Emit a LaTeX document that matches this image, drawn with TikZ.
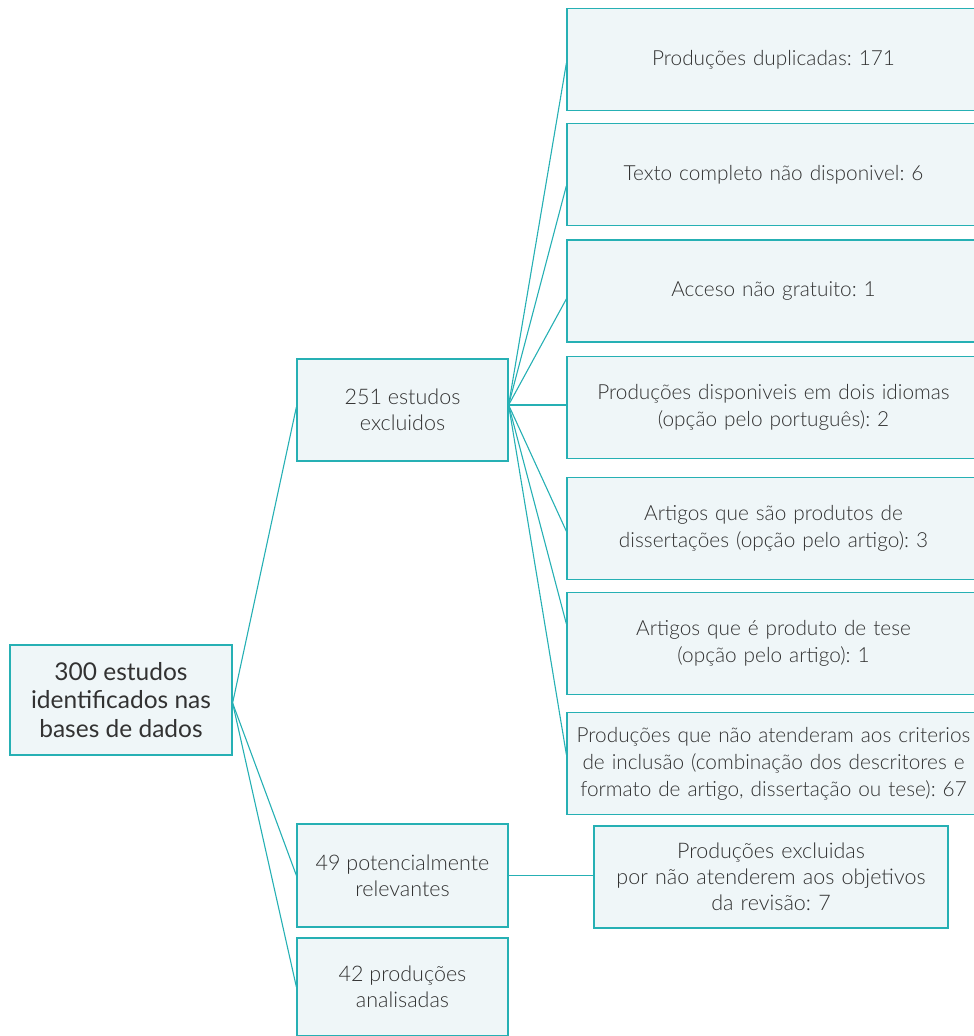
\documentclass[tikz,border=0pt]{standalone}
\usepackage{fontspec}
\setmainfont{Lato}[UprightFont={* Light}, BoldFont={* Regular}]
\usepackage{xcolor}
\usetikzlibrary{positioning}
\frenchspacing

\definecolor{tealline}{RGB}{38,176,180}
\definecolor{boxfill}{RGB}{239,246,248}
\definecolor{txtgray}{RGB}{50,50,50}

\begin{document}
\begin{tikzpicture}[
    x=1pt, y=-1pt,
    node distance=13pt,
    box/.style={rectangle, draw=tealline, line width=1.2pt, fill=boxfill, text=txtgray, align=center, inner sep=2pt},
    rootbox/.style={box, minimum width=222pt, minimum height=110pt, font=\fontsize{24.5}{28.5}\selectfont\bfseries},
    midbox/.style={box, minimum width=211pt, minimum height=102pt, font=\fontsize{21.5}{26}\selectfont},
    reason/.style={box, minimum width=413pt, minimum height=102pt, text width=405pt, font=\fontsize{20.8}{27}\selectfont},
    link/.style={draw=tealline, line width=1.1pt}
]
\useasboundingbox (0,0) rectangle (974,1036);

\node[rootbox] (root) at (121,700) {300 estudos\\identificados nas\\bases de dados};

\node[midbox] (excl) at (402.5,410) {251 estudos\\excluidos};
\node[midbox, minimum height=103pt] (pot) at (402.5,875.5) {49 potencialmente\\relevantes};
\node[midbox, minimum height=98pt] (anal) at (402.5,987) {42 produções\\analisadas};

\node[reason, minimum width=354pt, text width=346pt, font=\fontsize{21.5}{26}\selectfont] (obj) at (771,877) {Produções excluidas\\por não atenderem aos objetivos\\da revisão: 7};

\node[reason] (r1) at (773.5,59.5) {Produções duplicadas: 171};
\node[reason, below=12pt of r1] (r2) {Texto completo não disponivel: 6};
\node[reason, below=of r2] (r3) {Acceso não gratuito: 1};
\node[reason, below=of r3] (r4) {Produções disponiveis em dois idiomas\\(opção pelo português): 2};
\node[reason, below=18pt of r4] (r5) {Artigos que são produtos de\\dissertações (opção pelo artigo): 3};
\node[reason, below=12pt of r5] (r6) {Artigos que é produto de tese\\(opção pelo artigo): 1};
\node[reason, below=17pt of r6] (r7) {Produções que não atenderam aos criterios\\de inclusão (combinação dos descritores e\\formato de artigo, dissertação ou tese): 67};

\coordinate (rootsrc) at ([yshift=-3pt]root.east);
\coordinate (exclsrc) at ([yshift=5pt]excl.east);

\draw[link] (rootsrc) -- ([yshift=3pt]excl.west);
\draw[link] (rootsrc) -- (pot.west);
\draw[link] (rootsrc) -- (anal.west);

\draw[link] (exclsrc) -- ([yshift=-3.5pt]r1.west);
\draw[link] (exclsrc) -- ([yshift=-11pt]r2.west);
\draw[link] (exclsrc) -- ([yshift=-8pt]r3.west);
\draw[link] (exclsrc) -- (exclsrc -| r4.west);
\draw[link] (exclsrc) -- ([yshift=-3pt]r5.west);
\draw[link] (exclsrc) -- ([yshift=19.5pt]r6.west);
\draw[link] (exclsrc) -- ([yshift=9pt]r7.west);

\draw[link] (pot.east) -- (pot.east -| obj.west);

\end{tikzpicture}
\end{document}
